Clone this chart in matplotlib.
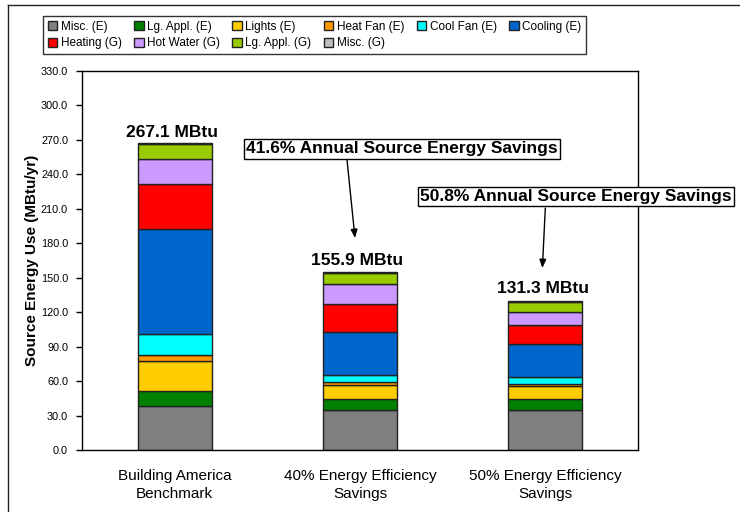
import matplotlib
matplotlib.use("Agg")
import matplotlib.pyplot as plt
from matplotlib.lines import Line2D
from matplotlib.patches import Patch
import numpy as np

plt.rcParams['font.family'] = ['Liberation Sans', 'DejaVu Sans']

# categories and stacked end uses (MBtu/yr)
categories = ["Building America\nBenchmark", "40% Energy Efficiency\nSavings", "50% Energy Efficiency\nSavings"]
misc_e = [38.5, 34.5, 34.5]
lg_appl_e = [12.8, 10.1, 10.1]
lights_e = [26.1, 11.7, 10.8]
heat_fan_e = [5.2, 2.6, 1.8]
cool_fan_e = [18.3, 6.4, 6.1]
cooling_e = [91.3, 37.4, 28.9]
heating_g = [38.9, 24.1, 16.3]
hot_water_g = [22.0, 17.6, 11.3]
lg_appl_g = [13.0, 9.3, 8.7]
misc_g = [1.0, 1.4, 1.5]
totals = [267.1, 155.9, 131.3]
savings = ["41.6% Annual Source Energy Savings", "50.8% Annual Source Energy Savings"]

series = [
    ("Misc. (E)", misc_e, "#808080"),
    ("Lg. Appl. (E)", lg_appl_e, "#008000"),
    ("Lights (E)", lights_e, "#FFCC00"),
    ("Heat Fan (E)", heat_fan_e, "#FF9900"),
    ("Cool Fan (E)", cool_fan_e, "#00FFFF"),
    ("Cooling (E)", cooling_e, "#0066CC"),
    ("Heating (G)", heating_g, "#FF0000"),
    ("Hot Water (G)", hot_water_g, "#CC99FF"),
    ("Lg. Appl. (G)", lg_appl_g, "#99CC00"),
    ("Misc. (G)", misc_g, "#C0C0C0"),
]

fig = plt.figure(figsize=(7.4, 5.12), dpi=100)
ax = fig.add_axes([82/740, 62/512, 556/740, 379.3/512])

x = np.arange(len(categories))
bottom = np.zeros(len(categories))
handles = []
for name, vals, col in series:
    ax.bar(x, vals, 0.4, bottom=bottom, color=col, edgecolor="#222222", linewidth=1)
    bottom += np.array(vals)
    handles.append(Patch(facecolor=col, edgecolor="#222222", linewidth=1, label=name))

for xi, t in zip(x, totals):
    ax.text(xi - 0.015, t + 2.5, f"{t:.1f} MBtu", ha="center", va="bottom", fontsize=12.5, fontweight="bold")

# savings callouts
box = dict(boxstyle="square,pad=0.12", facecolor="white", edgecolor="black", linewidth=1)
ax.text(1.226, 261.9, savings[0], ha="center", va="center", fontsize=12.5, fontweight="bold", bbox=box)
ax.text(2.165, 220.5, savings[1], ha="center", va="center", fontsize=12.5, fontweight="bold", bbox=box,
        clip_on=False)
arrow = dict(arrowstyle="-|>,head_length=0.5,head_width=0.2", color="black", lw=1, shrinkA=0, shrinkB=0)
ax.annotate("", xy=(0.973, 184.4), xytext=(0.93, 252.3), arrowprops=arrow)
ax.annotate("", xy=(1.984, 158.3), xytext=(2.0, 210.5), arrowprops=arrow)

ax.set_xlim(-0.5, 2.5)
ax.set_ylim(0, 330)
ax.set_yticks(np.arange(0, 331, 30))
ax.set_yticklabels([f"{v:.1f}" for v in np.arange(0, 331, 30)], fontsize=7.8)
ax.set_xticks(x)
ax.set_xticklabels(categories, fontsize=11, linespacing=1.35)
ax.tick_params(axis="x", length=0, pad=14)
ax.tick_params(axis="y", direction="out", length=4, width=1, pad=6)
ax.set_ylabel("Source Energy Use (MBtu/yr)", fontsize=11, fontweight="bold", labelpad=1)
for s in ax.spines.values():
    s.set_linewidth(1)

# legend, filled column-wise
order = [0, 6, 1, 7, 2, 8, 3, 9, 4, 5]
leg = fig.legend([handles[i] for i in order], [series[i][0] for i in order], ncol=6,
                 loc="upper left", bbox_to_anchor=(43/740, 1 - 16/512), fontsize=8.5,
                 frameon=True, fancybox=False, edgecolor="black", handlelength=0.8,
                 handleheight=0.8, handletextpad=0.3, columnspacing=1.05, borderpad=0.4,
                 labelspacing=0.38, borderaxespad=0)
leg.get_frame().set_linewidth(1)

# outer frame
fig.add_artist(Line2D([8/740, 1], [1 - 5/512, 1 - 5/512], color="#222222", lw=1))
fig.add_artist(Line2D([8/740, 8/740], [0, 1 - 5/512], color="#222222", lw=1))

fig.savefig("out.png", dpi=100)
